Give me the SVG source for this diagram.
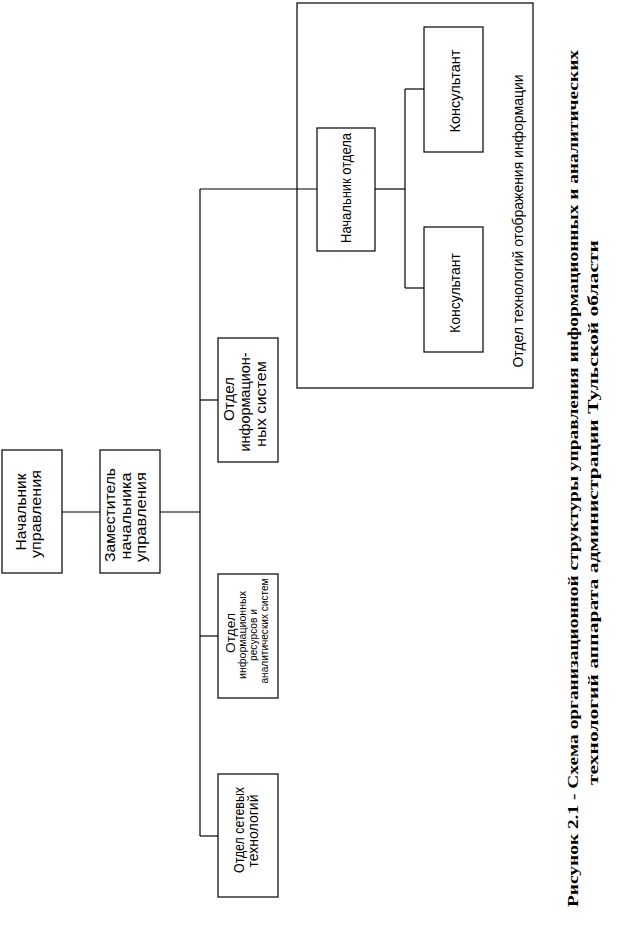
<svg xmlns="http://www.w3.org/2000/svg" width="618" height="936" viewBox="0 0 618 936">
<style>
.box{fill:#fff;stroke:#000;stroke-width:1.2}
.frame{fill:none;stroke:#000;stroke-width:1.2}
.t{font-family:"Liberation Sans",Arial,sans-serif;font-size:15px;fill:#000;text-anchor:middle}
.s{font-size:11px}
.cap{font-family:"Liberation Serif","Times New Roman",serif;font-size:15px;font-weight:bold;fill:#000}
#connectors path{fill:none;stroke:#000;stroke-width:1.2}
</style>
<rect width="618" height="936" fill="#fff"/>
<g id="dept-frame">
<rect class="frame" x="297" y="3" width="236" height="385"/>
<text class="t" transform="translate(523,221) rotate(-90)" textLength="293" lengthAdjust="spacingAndGlyphs">Отдел технологий отображения информации</text>
</g>
<g id="connectors">
<path d="M62,512 H100"/>
<path d="M160,512 H200"/>
<path d="M200,189 V836"/>
<path d="M200,400 H218"/>
<path d="M200,636 H218"/>
<path d="M200,836 H218"/>
<path d="M200,189 H317"/>
<path d="M375,189 H405"/>
<path d="M405,89 V288"/>
<path d="M405,89 H424"/>
<path d="M405,288 H424"/>
</g>
<g id="head">
<rect class="box" x="2" y="450" width="60" height="123"/>
<text class="t" transform="translate(26,512) rotate(-90)" textLength="77" lengthAdjust="spacingAndGlyphs">Начальник</text>
<text class="t" transform="translate(41,514) rotate(-90)" textLength="88" lengthAdjust="spacingAndGlyphs">управления</text>
</g>
<g id="deputy">
<rect class="box" x="100" y="450" width="60" height="123"/>
<text class="t" transform="translate(115,515) rotate(-90)" textLength="94" lengthAdjust="spacingAndGlyphs">Заместитель</text>
<text class="t" transform="translate(131,516) rotate(-90)" textLength="87" lengthAdjust="spacingAndGlyphs">начальника</text>
<text class="t" transform="translate(146,517) rotate(-90)" textLength="90" lengthAdjust="spacingAndGlyphs">управления</text>
</g>
<g id="info-systems">
<rect class="box" x="218" y="338" width="60" height="124"/>
<text class="t" transform="translate(234,399) rotate(-90)" textLength="44" lengthAdjust="spacingAndGlyphs">Отдел</text>
<text class="t" transform="translate(250,402) rotate(-90)" textLength="99" lengthAdjust="spacingAndGlyphs">информацион-</text>
<text class="t" transform="translate(266,404) rotate(-90)" textLength="86" lengthAdjust="spacingAndGlyphs">ных систем</text>
</g>
<g id="info-resources">
<rect class="box" x="218" y="574" width="60" height="124"/>
<text class="t" transform="translate(235,633) rotate(-90)" style="font-size:12.5px" textLength="40" lengthAdjust="spacingAndGlyphs">Отдел</text>
<text class="t s" transform="translate(246,635) rotate(-90)" textLength="88" lengthAdjust="spacingAndGlyphs">информационных</text>
<text class="t s" transform="translate(257,635) rotate(-90)" textLength="52" lengthAdjust="spacingAndGlyphs">ресурсов и</text>
<text class="t s" transform="translate(268,631) rotate(-90)" textLength="105" lengthAdjust="spacingAndGlyphs">аналитических систем</text>
</g>
<g id="network">
<rect class="box" x="218" y="774" width="60" height="123"/>
<text class="t" transform="translate(244,830) rotate(-90)" textLength="86" lengthAdjust="spacingAndGlyphs">Отдел сетевых</text>
<text class="t" transform="translate(258,831) rotate(-90)" textLength="73" lengthAdjust="spacingAndGlyphs">технологий</text>
</g>
<g id="dept-head">
<rect class="box" x="317" y="128" width="58" height="123"/>
<text class="t" transform="translate(351,188) rotate(-90)" textLength="110" lengthAdjust="spacingAndGlyphs">Начальник отдела</text>
</g>
<g id="consultant-1">
<rect class="box" x="424" y="27" width="59" height="125"/>
<text class="t" transform="translate(460,91) rotate(-90)" textLength="83" lengthAdjust="spacingAndGlyphs">Консультант</text>
</g>
<g id="consultant-2">
<rect class="box" x="424" y="227" width="59" height="125"/>
<text class="t" transform="translate(460,293) rotate(-90)" textLength="80" lengthAdjust="spacingAndGlyphs">Консультант</text>
</g>
<g id="caption">
<text class="cap" transform="translate(578,907) rotate(-90)" textLength="857" lengthAdjust="spacingAndGlyphs">Рисунок 2.1 - Схема организационной структуры управления информационных и аналитических</text>
<text class="cap" transform="translate(598,785) rotate(-90)" textLength="545" lengthAdjust="spacingAndGlyphs">технологий аппарата администрации Тульской области</text>
</g>
</svg>
